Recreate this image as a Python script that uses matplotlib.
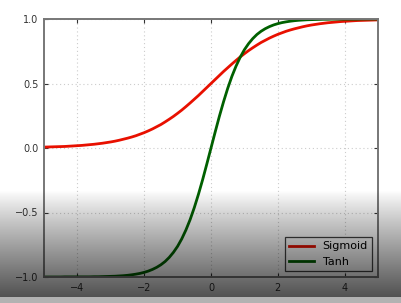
import numpy as np
import matplotlib
matplotlib.use("Agg")
import matplotlib.pyplot as plt

# values
x = [-5.0, -4.875, -4.75, -4.625, -4.5, -4.375, -4.25, -4.125, -4.0, -3.875,
     -3.75, -3.625, -3.5, -3.375, -3.25, -3.125, -3.0, -2.875, -2.75, -2.625,
     -2.5, -2.375, -2.25, -2.125, -2.0, -1.875, -1.75, -1.625, -1.5, -1.375,
     -1.25, -1.125, -1.0, -0.875, -0.75, -0.625, -0.5, -0.375, -0.25, -0.125,
     0.0,
     0.125, 0.25, 0.375, 0.5, 0.625, 0.75, 0.875, 1.0, 1.125, 1.25,
     1.375, 1.5, 1.625, 1.75, 1.875, 2.0, 2.125, 2.25, 2.375, 2.5,
     2.625, 2.75, 2.875, 3.0, 3.125, 3.25, 3.375, 3.5, 3.625, 3.75,
     3.875, 4.0, 4.125, 4.25, 4.375, 4.5, 4.625, 4.75, 4.875, 5.0]
sigmoid = [0.007, 0.008, 0.009, 0.010, 0.011, 0.012, 0.014, 0.016, 0.018, 0.020,
           0.023, 0.026, 0.029, 0.033, 0.037, 0.042, 0.047, 0.053, 0.060, 0.068,
           0.076, 0.085, 0.095, 0.107, 0.119, 0.133, 0.148, 0.165, 0.182, 0.202,
           0.223, 0.245, 0.269, 0.294, 0.321, 0.349, 0.378, 0.407, 0.438, 0.469,
           0.500,
           0.531, 0.562, 0.593, 0.622, 0.651, 0.679, 0.706, 0.731, 0.755, 0.777,
           0.798, 0.818, 0.835, 0.852, 0.867, 0.881, 0.893, 0.905, 0.915, 0.924,
           0.932, 0.940, 0.947, 0.953, 0.958, 0.963, 0.967, 0.971, 0.974, 0.977,
           0.980, 0.982, 0.984, 0.986, 0.988, 0.989, 0.990, 0.991, 0.992, 0.993]
tanh = [-1.000, -1.000, -1.000, -1.000, -1.000, -0.999, -0.999, -0.999, -0.999, -0.999,
        -0.999, -0.999, -0.998, -0.998, -0.997, -0.996, -0.995, -0.994, -0.992, -0.990,
        -0.987, -0.983, -0.978, -0.972, -0.964, -0.954, -0.941, -0.925, -0.905, -0.880,
        -0.848, -0.809, -0.762, -0.704, -0.635, -0.555, -0.462, -0.358, -0.245, -0.124,
        0.000,
        0.124, 0.245, 0.358, 0.462, 0.555, 0.635, 0.704, 0.762, 0.809, 0.848,
        0.880, 0.905, 0.925, 0.941, 0.954, 0.964, 0.972, 0.978, 0.983, 0.987,
        0.990, 0.992, 0.994, 0.995, 0.996, 0.997, 0.998, 0.998, 0.999, 0.999,
        0.999, 0.999, 0.999, 0.999, 0.999, 1.000, 1.000, 1.000, 1.000, 1.000]
xticks = [-4, -2, 0, 2, 4]
yticks = [-1.0, -0.5, 0.0, 0.5, 1.0]

fig = plt.figure(figsize=(4.02, 3.03), dpi=100, facecolor="white")
ax = fig.add_axes([44 / 402, 1 - 277 / 303, 334 / 402, 258 / 303])

ax.plot(x, sigmoid, color="#e81000", lw=2, label="Sigmoid")
ax.plot(x, tanh, color="#006000", lw=2, label="Tanh")
ax.set_xlim(-5, 5)
ax.set_ylim(-1, 1)
ax.set_xticks(xticks)
ax.set_yticks(yticks)
ax.set_xticklabels([f"{t:d}".replace("-", "\u2212") for t in xticks])
ax.set_yticklabels([f"{t:.1f}".replace("-", "\u2212") for t in yticks])
ax.tick_params(direction="in", top=True, right=True, labelsize=7, length=3,
               colors="#333333", pad=4)
ax.grid(True, color="#cccccc", linestyle=(0, (1, 2.5)), lw=0.8)
for s in ax.spines.values():
    s.set_color("#777777")
    s.set_linewidth(1.4)

leg = ax.legend(loc="lower right", fontsize=8, fancybox=False, handlelength=2.2,
                borderaxespad=0.5, framealpha=1)
leg.get_frame().set_edgecolor("#444444")
leg.get_frame().set_linewidth(0.9)

# screenshot shading at the bottom
H, W = 303, 402
rows = np.arange(H)
alpha = np.clip((rows - 190) / (296 - 190), 0, 1) ** 0.9 * 0.68
rgba = np.zeros((H, W, 4))
rgba[:, :, 3] = alpha[:, None]
strip = rows >= 297
rgba[strip, :, :3] = 0.7
rgba[strip, :, 3] = 1.0
ov = fig.add_axes([0, 0, 1, 1], zorder=10)
ov.imshow(rgba, aspect="auto", interpolation="nearest")
ov.axis("off")

fig.savefig("out.png", dpi=100)
